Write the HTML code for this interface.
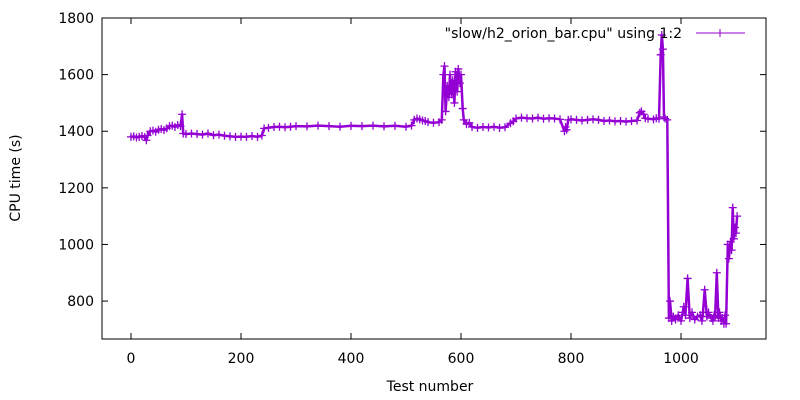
<!DOCTYPE html>
<html><head><meta charset="utf-8"><style>
body{margin:0;background:#fff}
svg{display:block;font-family:"DejaVu Sans","Liberation Sans",sans-serif}
</style></head><body>
<svg id="chart" width="800" height="400"></svg>
<script>
const testIds = [0,5,10,15,20,25,28,30,35,40,45,50,55,60,65,70,75,80,85,90,93,95,100,110,120,130,140,150,160,170,180,190,200,210,220,230,238,242,250,260,270,280,290,300,320,340,360,380,400,420,440,460,480,500,510,515,520,525,530,535,540,550,560,565,568,570,572,575,578,580,583,585,588,590,593,595,598,600,603,605,610,615,620,630,640,650,660,670,680,690,695,700,710,720,730,740,750,760,770,780,788,790,792,795,800,810,820,830,840,850,860,870,880,890,900,910,920,925,928,932,935,940,950,955,960,963,965,967,969,971,975,978,980,983,986,990,995,1000,1003,1005,1008,1012,1016,1020,1025,1030,1035,1038,1040,1043,1047,1050,1055,1058,1060,1062,1065,1068,1070,1073,1075,1078,1080,1082,1085,1087,1090,1092,1094,1096,1098,1100,1102];
const cpuTimes = [1380,1382,1378,1380,1383,1379,1368,1385,1400,1402,1398,1405,1408,1404,1410,1418,1420,1415,1422,1418,1460,1392,1390,1392,1390,1388,1392,1386,1388,1384,1382,1380,1381,1380,1383,1380,1385,1410,1412,1415,1416,1414,1416,1418,1417,1420,1418,1416,1419,1418,1420,1417,1419,1416,1420,1440,1445,1442,1438,1436,1432,1430,1432,1440,1600,1630,1470,1560,1520,1600,1530,1580,1500,1610,1540,1620,1570,1600,1480,1440,1425,1430,1415,1412,1415,1413,1416,1412,1414,1428,1435,1445,1448,1446,1445,1448,1444,1446,1445,1442,1400,1415,1405,1440,1442,1440,1438,1440,1442,1440,1436,1438,1435,1436,1434,1436,1438,1465,1470,1460,1446,1444,1442,1446,1444,1670,1740,1690,1450,1445,1440,740,800,730,745,735,750,730,760,780,750,880,740,760,735,745,750,730,760,840,745,760,740,730,750,745,900,740,760,730,740,720,750,720,1000,950,1010,980,1130,1020,1060,1040,1100,740,730];
const yTicks = [800,1000,1200,1400,1600,1800];
const xTicks = [0,200,400,600,800,1000];

const NS="http://www.w3.org/2000/svg";
const svg=document.getElementById('chart');
const L=102,R=766,T=18,B=339;
const xMin=-52.7,xMax=1154.5,yMin=666,yMax=1800;
function sx(v){return L+(v-xMin)/(xMax-xMin)*(R-L);}
function sy(v){return B-(v-yMin)/(yMax-yMin)*(B-T);}
function mk(tag,attrs,name){const e=document.createElementNS(NS,tag);for(const k in attrs)e.setAttribute(k,attrs[k]);


svg.appendChild(e);return e;}

mk('rect',{x:L,y:T,width:R-L,height:B-T,fill:'none',stroke:'#000','stroke-width':1},'plot-border');
yTicks.forEach(v=>{const y=sy(v);
 mk('line',{x1:L,x2:L+6,y1:y,y2:y,stroke:'#000'},'y-tick');
 mk('line',{x1:R,x2:R-6,y1:y,y2:y,stroke:'#000'},'y-tick-right');
 const t=mk('text',{x:L-8,y:y+5,'text-anchor':'end','font-size':14},'y-tick-label');t.textContent=v;});
xTicks.forEach(v=>{const x=sx(v);
 mk('line',{x1:x,x2:x,y1:B,y2:B-6,stroke:'#000'},'x-tick');
 mk('line',{x1:x,x2:x,y1:T,y2:T+6,stroke:'#000'},'x-tick-top');
 const t=mk('text',{x:x,y:B+24,'text-anchor':'middle','font-size':14},'x-tick-label');t.textContent=v;});
const yt=mk('text',{x:20,y:178,'text-anchor':'middle','font-size':14,transform:'rotate(-90 20 178)'},'y-axis-title');yt.textContent='CPU time (s)';
const xt=mk('text',{x:430,y:391,'text-anchor':'middle','font-size':14},'x-axis-title');xt.textContent='Test number';

const col='#9400d3';
let d='';testIds.forEach((x,i)=>{d+=(i?'L':'M')+sx(x).toFixed(1)+','+sy(cpuTimes[i]).toFixed(1);});
mk('path',{d:d,fill:'none',stroke:col,'stroke-width':2.5,'stroke-linejoin':'round'},'series-line');
testIds.forEach((x,i)=>{const px=sx(x),py=sy(cpuTimes[i]);
 mk('path',{d:`M${px-4},${py}h8M${px},${py-4}v8`,stroke:col,'stroke-width':1.3},'data-point');});

const lt=mk('text',{x:682,y:38,'text-anchor':'end','font-size':14},'legend-label');lt.textContent='"slow/h2_orion_bar.cpu" using 1:2';
mk('line',{x1:696,x2:745,y1:33,y2:33,stroke:col},'legend-line');
mk('path',{d:'M716,33h8M720,29v8',stroke:col},'legend-marker');
</script>
</body></html>
